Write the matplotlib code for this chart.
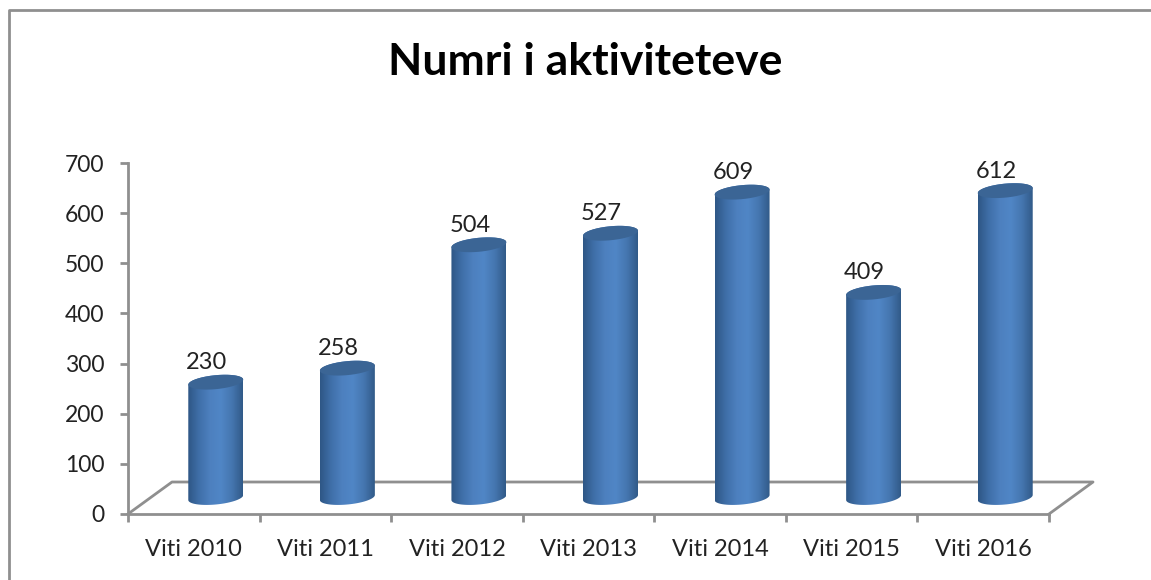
import numpy as np
import matplotlib
matplotlib.use("Agg")
from matplotlib import pyplot as plt
from matplotlib.path import Path
from matplotlib.patches import PathPatch
from matplotlib.colors import LinearSegmentedColormap

years = ['Viti 2010', 'Viti 2011', 'Viti 2012', 'Viti 2013', 'Viti 2014', 'Viti 2015', 'Viti 2016']
activities = [230, 258, 504, 527, 609, 409, 612]
y_ticks = [0, 100, 200, 300, 400, 500, 600, 700]

plt.rcParams['font.family'] = ['Lato', 'DejaVu Sans']
W, H = 1151, 580
grey = '#8f8f8f'
text_col = '#222222'

fig = plt.figure(figsize=(W / 100, H / 100), dpi=100)
ax = fig.add_axes([128 / W, 1 - 514 / H, 921 / W, 351 / H])

for s in ['top', 'right']:
    ax.spines[s].set_visible(False)
for s in ['left', 'bottom']:
    ax.spines[s].set_color(grey)
    ax.spines[s].set_linewidth(2)

# category ticks sit between the bars
ax.set_xticks(np.arange(-0.5, 7, 1))
ax.set_xticklabels([])
ax.tick_params(axis='x', which='major', length=6, width=2, color=grey)
ax.set_xticks(np.arange(7), minor=True)
ax.set_xticklabels(years, minor=True, fontsize=17, color=text_col)
ax.tick_params(axis='x', which='minor', length=0, pad=18)
ax.set_yticks(y_ticks)
ax.tick_params(axis='y', length=6, width=2, color=grey, labelsize=16.5, labelcolor=text_col, pad=11)

# floor of the fake 3d box
px = 1 / 921
py = 1 / 351
floor_x = [0, 44 * px, 1 + 44 * px, 1]
floor_y = [0, 32 * py, 32 * py, 0]
ax.plot(floor_x, floor_y, color=grey, lw=2, transform=ax.transAxes, clip_on=False, zorder=1)

cmap = LinearSegmentedColormap.from_list('cyl', ['#2e5685', '#3f6fa8', '#4d80bf', '#5086c6', '#4576b0', '#315a88'])
grad = np.linspace(0, 1, 256).reshape(1, -1)

# pixel sizes in data units
ux = 7 / 921
uy = 700 / 351
half = 27.5 * ux
dx = 22 / 131.57
base = 16.5 * uy
ry = 7 * uy
tilt = 2.5 * uy


def arc(cx, cy, start, stop):
    t = np.linspace(start, stop, 40)
    return cx + half * np.cos(t), cy + ry * np.sin(t) + tilt * np.cos(t)


for i, v in enumerate(activities):
    cx = i + dx
    top = v + base
    bx, by = arc(cx, base, np.pi, 2 * np.pi)
    tx, ty = arc(cx, top, 0, np.pi)
    body = PathPatch(Path(np.c_[np.r_[bx, tx], np.r_[by, ty]]), fc='none', ec='none', zorder=3)
    ax.add_patch(body)
    im = ax.imshow(grad, cmap=cmap, aspect='auto', zorder=3,
                   extent=[cx - half, cx + half, 0, top + 2 * ry], interpolation='bilinear')
    im.set_clip_path(body)
    ex, ey = arc(cx, top, 0, 2 * np.pi)
    ax.fill(ex, ey, color='#3b6595', zorder=4, lw=0)
    ax.annotate(str(v), (cx - 9 * ux, v), xytext=(0, 26), textcoords='offset points',
                fontsize=17, color=text_col, ha='center', va='center', annotation_clip=False)

ax.set_xlim(-0.5, 6.5)
ax.set_ylim(0, 700)

fig.text(585 / W, 1 - 62 / H, 'Numri i aktiviteteve', fontsize=32, fontweight='bold',
         color='black', ha='center', va='center')

# chart frame, only left and top are in the crop
fig.add_artist(plt.Line2D([8.5 / W, 8.5 / W, 1], [0, 1 - 9.5 / H, 1 - 9.5 / H], color=grey, lw=2))

fig.savefig('out.png', dpi=100)
